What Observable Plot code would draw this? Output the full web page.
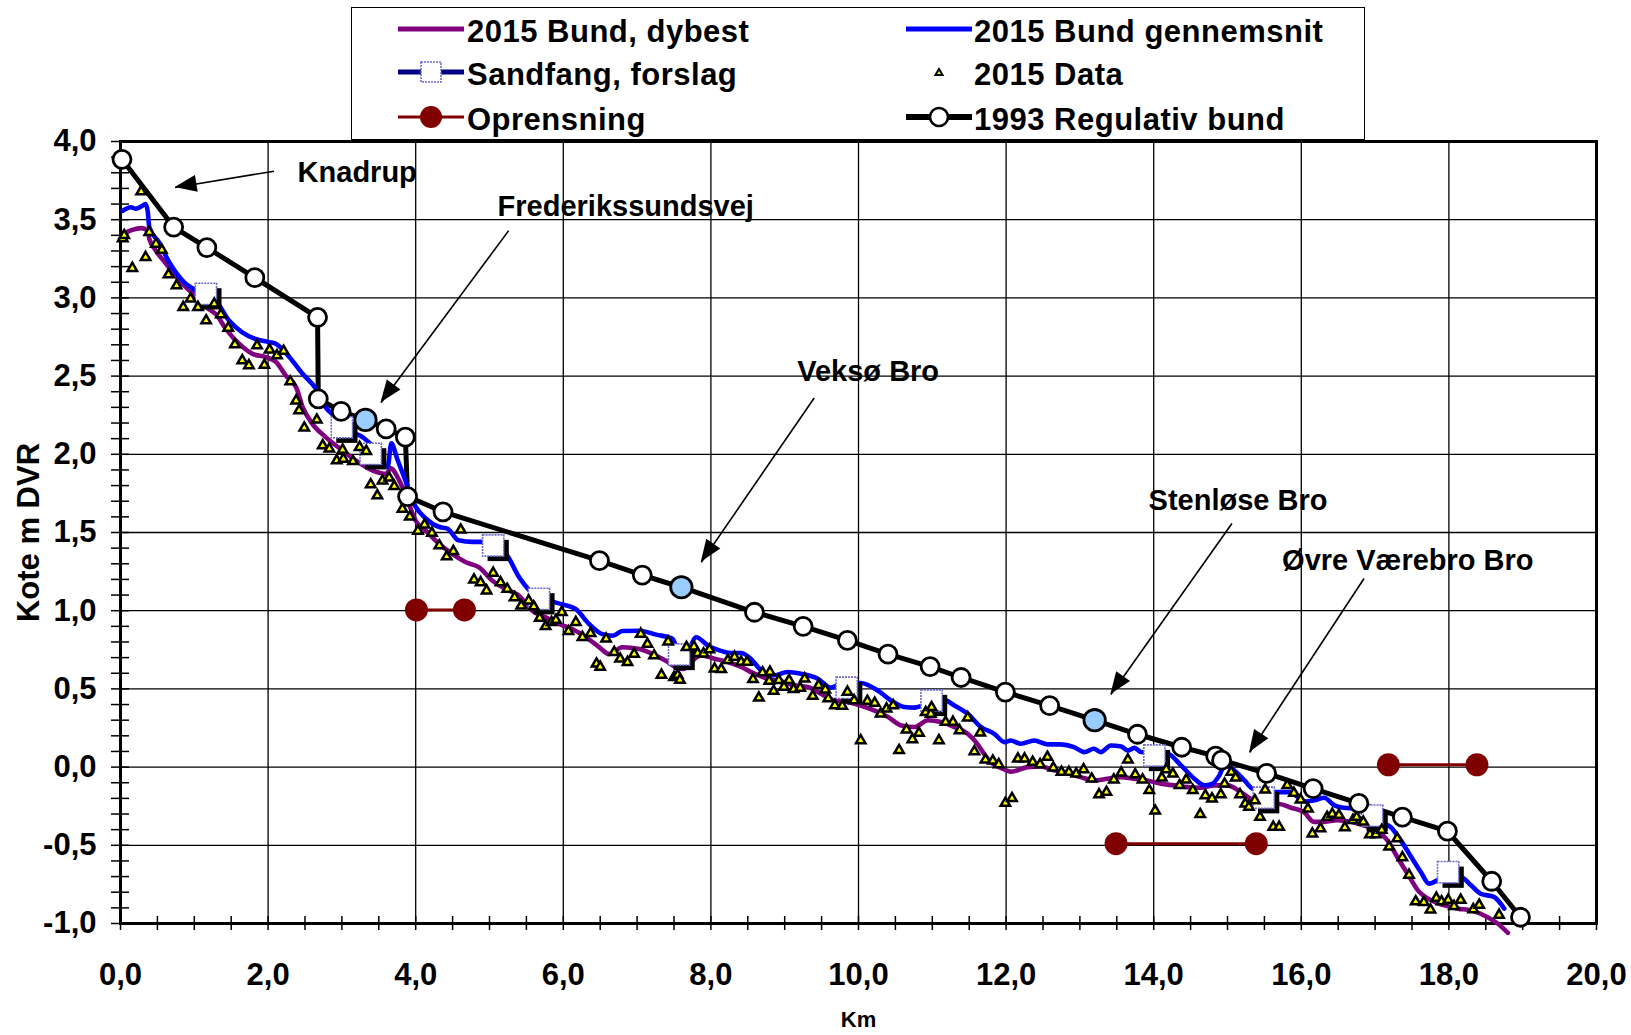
<!DOCTYPE html>
<html>
<head>
<meta charset="utf-8">
<script src="https://cdn.jsdelivr.net/npm/d3@7"></script>
<script src="https://cdn.jsdelivr.net/npm/@observablehq/plot@0.6"></script>
<style>
  body { margin: 0; background: #fff; }
  #wrap { position: relative; width: 1631px; height: 1035px; overflow: hidden; font-family: "Liberation Sans", Arial, sans-serif; }
  #wrap > svg { position: absolute; left: 0; top: 0; }
  #legend { position: absolute; left: 351px; top: 7px; width: 1012px; height: 131px; border: 1.5px solid #000; background: #fff; }
  .item { position: absolute; height: 44px; display: flex; align-items: center; font-weight: bold; font-size: 31px; letter-spacing: 0.5px; color: #000; white-space: nowrap; }
</style>
</head>
<body>
<div id="wrap"></div>
<script>
// ---------- data ----------
// 1993 Regulativ bund
const regX = [0.02, 0.72, 1.17, 1.82, 2.67, 2.68, 2.99, 3.32, 3.60, 3.86, 3.89, 4.37, 6.49, 7.07, 7.60, 8.59, 9.25, 9.85, 10.40, 10.97, 11.39, 11.99, 12.59, 13.20, 13.78, 14.38, 14.84, 14.92, 15.53, 16.16, 16.78, 17.37, 17.98, 18.58, 18.97];
const regY = [3.886, 3.453, 3.322, 3.129, 2.876, 2.355, 2.274, 2.22, 2.163, 2.11, 1.73, 1.632, 1.32, 1.228, 1.15, 0.99, 0.90, 0.81, 0.722, 0.643, 0.573, 0.48, 0.393, 0.30, 0.21, 0.127, 0.07, 0.044, -0.04, -0.137, -0.232, -0.32, -0.41, -0.73, -0.96];
// highlighted bridge points on the 1993 line
const broX = [3.32, 7.60, 13.20];
const broY = [2.22, 1.15, 0.30];

// 2015 Bund, dybest
const dybX = [0.05, 0.16, 0.28, 0.37, 0.39, 0.48, 0.62, 0.80, 0.98, 1.16, 1.29, 1.43, 1.61, 1.79, 1.97, 2.11, 2.24, 2.38, 2.47, 2.60, 2.78, 3.01, 3.19, 3.42, 3.60, 3.66, 3.78, 3.91, 4.00, 4.14, 4.32, 4.50, 4.68, 4.86, 5.04, 5.22, 5.40, 5.58, 5.76, 5.94, 6.12, 6.31, 6.49, 6.62, 6.80, 7.03, 7.21, 7.39, 7.53, 7.62, 7.80, 7.86, 8.05, 8.23, 8.41, 8.59, 8.77, 8.95, 9.13, 9.31, 9.49, 9.67, 9.85, 10.03, 10.21, 10.40, 10.58, 10.76, 10.94, 11.12, 11.30, 11.48, 11.61, 11.70, 11.79, 11.93, 12.07, 12.29, 12.47, 12.65, 12.83, 13.01, 13.19, 13.37, 13.55, 13.73, 13.91, 14.10, 14.28, 14.46, 14.64, 14.82, 15.00, 15.18, 15.31, 15.50, 15.68, 15.86, 16.04, 16.17, 16.31, 16.49, 16.67, 16.85, 17.03, 17.17, 17.30, 17.44, 17.58, 17.76, 17.94, 18.12, 18.30, 18.52, 18.66, 18.80];
const dybY = [3.413, 3.435, 3.446, 3.43, 3.377, 3.302, 3.217, 3.111, 3.026, 2.94, 2.897, 2.801, 2.706, 2.642, 2.621, 2.589, 2.503, 2.429, 2.30, 2.195, 2.11, 2.024, 1.96, 1.895, 1.874, 1.91, 1.83, 1.68, 1.575, 1.511, 1.426, 1.362, 1.31, 1.277, 1.192, 1.139, 1.096, 1.0, 0.957, 0.915, 0.883, 0.83, 0.766, 0.723, 0.766, 0.755, 0.723, 0.68, 0.638, 0.627, 0.70, 0.714, 0.693, 0.672, 0.64, 0.597, 0.565, 0.544, 0.523, 0.512, 0.47, 0.426, 0.416, 0.394, 0.362, 0.32, 0.266, 0.256, 0.30, 0.288, 0.256, 0.213, 0.149, 0.085, 0.032, -0.005, -0.03, 0.0, 0.004, -0.021, -0.038, -0.064, -0.085, -0.075, -0.064, -0.075, -0.085, -0.107, -0.117, -0.128, -0.132, -0.117, -0.117, -0.16, -0.202, -0.245, -0.234, -0.26, -0.29, -0.35, -0.35, -0.34, -0.35, -0.373, -0.405, -0.47, -0.575, -0.682, -0.788, -0.852, -0.884, -0.905, -0.916, -0.958, -1.0, -1.06];

// 2015 Bund gennemsnit
const gnsX = [0.03, 0.14, 0.21, 0.28, 0.34, 0.37, 0.39, 0.52, 0.66, 0.84, 1.02, 1.29, 1.47, 1.65, 1.83, 2.02, 2.11, 2.29, 2.47, 2.65, 2.78, 2.92, 3.10, 3.28, 3.42, 3.55, 3.62, 3.67, 3.75, 3.87, 3.96, 4.14, 4.32, 4.43, 4.58, 4.77, 4.90, 5.22, 5.40, 5.54, 5.81, 5.99, 6.17, 6.35, 6.53, 6.67, 6.80, 7.03, 7.26, 7.48, 7.56, 7.66, 7.80, 7.98, 8.05, 8.27, 8.41, 8.54, 8.68, 8.86, 9.04, 9.22, 9.45, 9.63, 9.76, 10.03, 10.26, 10.44, 10.62, 10.76, 10.87, 11.16, 11.30, 11.48, 11.66, 11.84, 11.98, 12.06, 12.20, 12.38, 12.56, 12.74, 12.92, 13.06, 13.19, 13.28, 13.42, 13.56, 13.65, 13.74, 13.83, 14.19, 14.37, 14.55, 14.69, 14.78, 14.89, 14.96, 15.09, 15.23, 15.34, 15.50, 15.68, 15.86, 15.95, 16.06, 16.20, 16.31, 16.45, 16.58, 16.76, 16.94, 17.08, 17.21, 17.35, 17.49, 17.62, 17.73, 17.85, 18.16, 18.30, 18.43, 18.61, 18.75];
const gnsY = [3.557, 3.58, 3.57, 3.584, 3.60, 3.55, 3.452, 3.356, 3.228, 3.111, 3.047, 2.983, 2.855, 2.78, 2.737, 2.717, 2.705, 2.62, 2.513, 2.418, 2.30, 2.237, 2.152, 2.11, 2.048, 1.94, 1.92, 2.07, 1.97, 1.82, 1.70, 1.588, 1.535, 1.525, 1.45, 1.44, 1.44, 1.365, 1.215, 1.13, 1.065, 1.04, 1.01, 0.915, 0.85, 0.84, 0.87, 0.872, 0.847, 0.82, 0.74, 0.72, 0.83, 0.77, 0.757, 0.73, 0.73, 0.693, 0.619, 0.587, 0.608, 0.597, 0.565, 0.508, 0.53, 0.538, 0.49, 0.426, 0.384, 0.38, 0.394, 0.43, 0.394, 0.341, 0.256, 0.213, 0.16, 0.17, 0.149, 0.17, 0.145, 0.145, 0.128, 0.096, 0.117, 0.096, 0.138, 0.132, 0.106, 0.123, 0.096, 0.085, 0.011, -0.074, -0.117, -0.11, -0.053, 0.011, -0.02, -0.085, -0.138, -0.149, -0.16, -0.16, -0.19, -0.22, -0.21, -0.196, -0.245, -0.26, -0.266, -0.298, -0.35, -0.383, -0.47, -0.575, -0.671, -0.745, -0.724, -0.703, -0.756, -0.81, -0.83, -0.905];

// 2015 Data (survey points)
const datX = [0.03, 0.05, 0.16, 0.28, 0.34, 0.39, 0.48, 0.56, 0.65, 0.76, 0.85, 0.95, 1.05, 1.16, 1.27, 1.36, 1.46, 1.55, 1.65, 1.74, 1.85, 1.95, 2.02, 2.12, 2.21, 2.30, 2.38, 2.42, 2.49, 2.66, 2.74, 2.83, 2.93, 3.01, 3.02, 3.15, 3.24, 3.33, 3.39, 3.48, 3.55, 3.64, 3.71, 3.82, 3.92, 4.03, 4.12, 4.22, 4.32, 4.42, 4.51, 4.61, 4.79, 4.88, 4.96, 5.05, 5.15, 5.24, 5.34, 5.43, 5.53, 5.60, 5.68, 5.76, 5.84, 5.90, 5.98, 6.07, 6.17, 6.26, 6.37, 6.45, 6.50, 6.58, 6.69, 6.77, 6.87, 6.96, 7.05, 7.14, 7.23, 7.33, 7.42, 7.50, 7.55, 7.58, 7.67, 7.77, 7.82, 7.90, 7.98, 8.05, 8.14, 8.23, 8.32, 8.41, 8.49, 8.57, 8.65, 8.70, 8.79, 8.80, 8.85, 8.92, 8.99, 9.06, 9.12, 9.21, 9.27, 9.38, 9.46, 9.55, 9.59, 9.68, 9.78, 9.85, 9.94, 10.03, 10.12, 10.22, 10.30, 10.38, 10.47, 10.55, 10.65, 10.73, 10.82, 10.91, 10.98, 10.99, 11.09, 11.18, 11.28, 11.37, 11.48, 11.57, 11.65, 11.72, 11.82, 11.90, 11.99, 12.08, 12.16, 12.25, 12.36, 12.46, 12.56, 12.64, 12.75, 12.85, 12.95, 13.05, 13.16, 13.26, 13.36, 13.46, 13.56, 13.65, 13.75, 13.85, 13.94, 14.02, 14.11, 14.17, 14.26, 14.35, 14.44, 14.53, 14.63, 14.70, 14.79, 14.91, 14.96, 15.05, 15.11, 15.17, 15.24, 15.29, 15.37, 15.44, 15.51, 15.62, 15.70, 15.81, 15.90, 15.99, 16.09, 16.15, 16.26, 16.35, 16.42, 16.51, 16.59, 16.70, 16.75, 16.84, 16.93, 17.01, 17.09, 17.19, 17.30, 17.37, 17.46, 17.55, 17.66, 17.75, 17.83, 17.90, 17.99, 18.07, 18.16, 18.33, 18.41, 18.68];
const datY = [3.38, 3.40, 3.19, 3.68, 3.26, 3.42, 3.345, 3.306, 3.149, 3.079, 2.94, 2.994, 2.94, 2.855, 2.962, 2.894, 2.808, 2.702, 2.60, 2.568, 2.695, 2.57, 2.668, 2.632, 2.66, 2.465, 2.343, 2.28, 2.169, 2.22, 2.056, 2.035, 1.96, 2.028, 1.97, 1.955, 2.045, 2.02, 1.806, 1.736, 1.83, 1.85, 1.796, 1.65, 1.60, 1.51, 1.55, 1.496, 1.416, 1.346, 1.38, 1.517, 1.198, 1.18, 1.128, 1.241, 1.18, 1.138, 1.085, 1.032, 1.064, 1.026, 0.953, 0.90, 0.926, 0.94, 0.99, 0.868, 0.926, 0.83, 0.855, 0.66, 0.64, 0.82, 0.734, 0.692, 0.67, 0.723, 0.851, 0.787, 0.713, 0.589, 0.802, 0.574, 0.589, 0.557, 0.766, 0.77, 0.728, 0.725, 0.751, 0.629, 0.625, 0.683, 0.704, 0.672, 0.672, 0.561, 0.443, 0.604, 0.55, 0.608, 0.486, 0.555, 0.512, 0.555, 0.497, 0.505, 0.565, 0.454, 0.523, 0.495, 0.438, 0.394, 0.39, 0.48, 0.426, 0.17, 0.422, 0.41, 0.341, 0.373, 0.394, 0.107, 0.239, 0.177, 0.218, 0.35, 0.34, 0.382, 0.17, 0.288, 0.288, 0.234, 0.316, 0.10, 0.22, 0.047, 0.04, 0.017, -0.23, -0.20, 0.053, 0.053, 0.032, 0.017, 0.064, -0.004, -0.032, -0.032, -0.043, -0.015, -0.075, -0.175, -0.16, -0.081, -0.036, 0.047, -0.047, -0.081, -0.149, -0.28, -0.068, -0.015, -0.043, -0.117, -0.081, -0.149, -0.302, -0.181, -0.202, -0.175, -0.107, -0.032, -0.068, -0.175, -0.234, -0.255, -0.213, -0.32, -0.145, -0.383, -0.383, -0.117, -0.166, -0.209, -0.266, -0.426, -0.393, -0.32, -0.30, -0.307, -0.386, -0.34, -0.32, -0.35, -0.431, -0.431, -0.403, -0.51, -0.457, -0.578, -0.69, -0.86, -0.864, -0.912, -0.837, -0.86, -0.85, -0.89, -0.85, -0.91, -0.882, -0.946];

// Sandfang, forslag
const sandX = [1.157, 3.00, 3.39, 5.05, 5.67, 7.57, 9.84, 10.99, 14.01, 15.49, 16.96, 17.99];
const sandY = [3.026, 2.173, 2.003, 1.417, 1.076, 0.72, 0.507, 0.426, 0.074, -0.196, -0.31, -0.672];

// Oprensning (three stretches)
const oprX1 = [4.01, 13.49, 17.18];
const oprX2 = [4.66, 15.39, 18.38];
const oprY = [1.005, -0.49, 0.015];

// Annotations
const annText = ["Knadrup", "Frederikssundsvej", "Veksø Bro", "Stenløse Bro", "Øvre Værebro Bro"];
const annX = [2.40, 5.11, 9.17, 13.93, 15.74];
const annY = [3.80, 3.585, 2.53, 1.705, 1.32];
const arrX1 = [2.08, 5.26, 9.40, 15.06, 16.85];
const arrY1 = [3.81, 3.43, 2.36, 1.557, 1.206];
const arrX2 = [0.74, 3.53, 7.87, 13.42, 15.30];
const arrY2 = [3.706, 2.33, 1.31, 0.464, 0.093];

// Axes
const xTickLabels = [0, 2, 4, 6, 8, 10, 12, 14, 16, 18, 20];
const yTickLabels = [-1, -0.5, 0, 0.5, 1, 1.5, 2, 2.5, 3, 3.5, 4];
const xTitle = "Km";
const yTitle = "Kote m DVR";
const seriesNames = ["2015 Bund, dybest", "2015 Bund gennemsnit", "Sandfang, forslag", "2015 Data", "Oprensning", "1993 Regulativ bund"];

// ---------- build rows ----------
const zipXY = (xs, ys) => xs.map((x, i) => ({x, y: ys[i]}));
const reg = zipXY(regX, regY);
const bro = zipXY(broX, broY);
const dyb = zipXY(dybX, dybY);
const gns = zipXY(gnsX, gnsY);
const dat = zipXY(datX, datY);
const sand = zipXY(sandX, sandY);
const opr = oprY.map((y, i) => ({x1: oprX1[i], x2: oprX2[i], y}));
const oprPts = opr.flatMap(d => [{x: d.x1, y: d.y}, {x: d.x2, y: d.y}]);
const ann = annText.map((t, i) => ({t, x: annX[i], y: annY[i]}));
const arrows = arrX1.map((x1, i) => ({x1, y1: arrY1[i], x2: arrX2[i], y2: arrY2[i]}));
const fmt = d => d.toFixed(1).replace(".", ",");
const FONT = '"Liberation Sans", Arial, Helvetica, sans-serif';

const chart = Plot.plot({
  width: 1631,
  height: 1035,
  marginLeft: 120,
  marginRight: 35,
  marginTop: 141,
  marginBottom: 112,
  x: {domain: [0, 20], axis: null},
  y: {domain: [-1, 4], axis: null},
  style: {fontFamily: FONT, background: "transparent", color: "#000"},
  marks: [
    // grid
    Plot.ruleX(xTickLabels.slice(1, -1), {stroke: "#000", strokeWidth: 1.3}),
    Plot.ruleY(yTickLabels.slice(1, -1), {stroke: "#000", strokeWidth: 1.3}),
    // tick marks crossing the axes
    Plot.ruleX(d3.range(0, 20.001, 0.5), {y1: -1, y2: -1, insetTop: -7, insetBottom: -7, stroke: "#000", strokeWidth: 1.5}),
    Plot.ruleY(d3.range(-1, 4.001, 0.1), {x1: 0, x2: 0, insetLeft: -9, insetRight: -9, stroke: "#000", strokeWidth: 1.5}),
    Plot.frame({stroke: "#000", strokeWidth: 3}),
    // tick labels and titles
    Plot.text(xTickLabels, {x: d => d, y: -1, dy: 52, text: fmt, fontSize: 31, fontWeight: "bold", fill: "#000"}),
    Plot.text(yTickLabels, {x: 0, y: d => d, dx: -24, textAnchor: "end", text: fmt, fontSize: 31, fontWeight: "bold", fill: "#000"}),
    Plot.text([xTitle], {x: 10, y: -1, dy: 96, text: d => d, fontSize: 22, fontWeight: "bold", fill: "#000"}),
    Plot.text([yTitle], {x: 0, y: 1.5, dx: -91, rotate: -90, text: d => d, fontSize: 31, fontWeight: "bold", fill: "#000"}),
    // Oprensning
    Plot.link(opr, {x1: "x1", x2: "x2", y1: "y", y2: "y", stroke: "#800000", strokeWidth: 3}),
    Plot.dot(oprPts, {x: "x", y: "y", r: 11.5, fill: "#800000"}),
    // 1993 line
    Plot.line(reg, {x: "x", y: "y", stroke: "#000", strokeWidth: 5, strokeLinejoin: "round"}),
    // 2015 lines
    Plot.line(dyb, {x: "x", y: "y", stroke: "#800080", strokeWidth: 4.6, curve: "monotone-x"}),
    Plot.line(gns, {x: "x", y: "y", stroke: "#0000ff", strokeWidth: 4.6, curve: "monotone-x"}),
    // Sandfang squares with shadow
    Plot.dot(sand, {x: "x", y: "y", symbol: "square", r: 12, fill: "#000", dx: 5, dy: 5}),
    Plot.dot(sand, {x: "x", y: "y", symbol: "square", r: 12, fill: "#fff", stroke: "#6a6acc", strokeWidth: 1.6, strokeDasharray: "2,1"}),
    // 2015 data points
    Plot.dot(dat, {x: "x", y: "y", symbol: "triangle", r: 3.5, fill: "#ffff00", stroke: "#000", strokeWidth: 2.5}),
    // 1993 markers
    Plot.dot(reg, {x: "x", y: "y", r: 9, fill: "#fff", stroke: "#000", strokeWidth: 2.8}),
    Plot.dot(bro, {x: "x", y: "y", r: 10.7, fill: "#99ccff", stroke: "#000", strokeWidth: 2.8}),
    // annotations
    Plot.link(arrows, {x1: "x1", y1: "y1", x2: "x2", y2: "y2", stroke: "#000", strokeWidth: 1.6}),
    Plot.text(ann, {x: "x", y: "y", text: "t", textAnchor: "start", fontSize: 29, fontWeight: "bold", fill: "#000"})
  ]
});

// filled arrow heads, placed through the plot's own scales
const sx = chart.scale("x"), sy = chart.scale("y");
const gHeads = d3.select(chart).append("g");
arrows.forEach(d => {
  const x1 = sx.apply(d.x1), y1 = sy.apply(d.y1), x2 = sx.apply(d.x2), y2 = sy.apply(d.y2);
  const a = Math.atan2(y2 - y1, x2 - x1), L = 22, hw = 8.5;
  const bx = x2 - L * Math.cos(a), by = y2 - L * Math.sin(a);
  const px = -Math.sin(a) * hw, py = Math.cos(a) * hw;
  gHeads.append("polygon")
    .attr("points", `${x2},${y2} ${bx + px},${by + py} ${bx - px},${by - py}`)
    .attr("fill", "#000");
});

const wrap = document.getElementById("wrap");
wrap.append(chart);

// ---------- legend ----------
const legend = d3.select(wrap).append("div").attr("id", "legend");
const colText = [115, 622], colSw = [46, 554], rowMid = [24, 67, 112];
const kinds = ["dyb", "gns", "sand", "dat", "opr", "reg"];
seriesNames.forEach((name, i) => {
  const col = i % 2, row = Math.floor(i / 2);
  const item = legend.append("div").attr("class", "item")
    .style("left", colSw[col] + "px").style("top", (rowMid[row] - 22) + "px");
  const s = item.append("svg").attr("width", 66).attr("height", 44)
    .style("margin-right", (colText[col] - colSw[col] - 66) + "px");
  const cy = 19, cx = 33;
  const k = kinds[i];
  if (k === "dyb" || k === "gns") {
    s.append("line").attr("x1", 0).attr("x2", 66).attr("y1", cy).attr("y2", cy)
      .attr("stroke", k === "dyb" ? "#800080" : "#0000ff").attr("stroke-width", 5);
  } else if (k === "sand") {
    s.append("line").attr("x1", 0).attr("x2", 66).attr("y1", cy).attr("y2", cy).attr("stroke", "#000080").attr("stroke-width", 5);
    s.append("rect").attr("x", cx - 10).attr("y", cy - 10).attr("width", 20).attr("height", 20)
      .attr("fill", "#fff").attr("stroke", "#6a6acc").attr("stroke-width", 1.6).attr("stroke-dasharray", "2,1");
  } else if (k === "dat") {
    s.append("path").attr("d", d3.symbol(d3.symbolTriangle, 22)()).attr("transform", `translate(${cx},${cy + 1})`)
      .attr("fill", "#ffff00").attr("stroke", "#000").attr("stroke-width", 2);
  } else if (k === "opr") {
    s.append("line").attr("x1", 0).attr("x2", 66).attr("y1", cy).attr("y2", cy).attr("stroke", "#800000").attr("stroke-width", 3);
    s.append("circle").attr("cx", cx).attr("cy", cy).attr("r", 11).attr("fill", "#800000");
  } else {
    s.append("line").attr("x1", 0).attr("x2", 66).attr("y1", cy).attr("y2", cy).attr("stroke", "#000").attr("stroke-width", 6);
    s.append("circle").attr("cx", cx).attr("cy", cy).attr("r", 9).attr("fill", "#fff").attr("stroke", "#000").attr("stroke-width", 2.6);
  }
  item.append("span").text(name);
});
</script>
</body>
</html>
